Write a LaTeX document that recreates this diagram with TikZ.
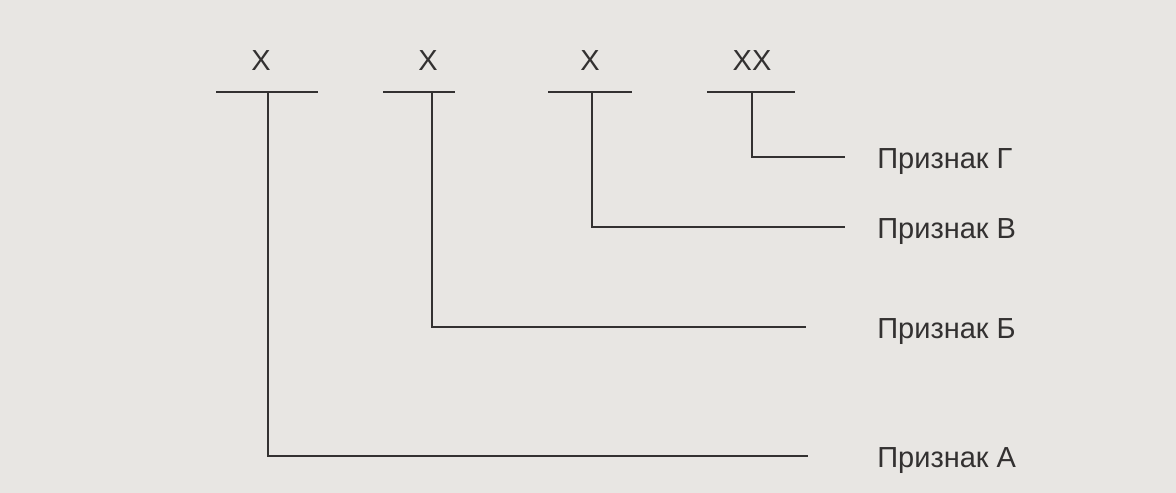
\documentclass[tikz,border=0pt]{standalone}
\usepackage{fontspec}
\setmainfont{Liberation Sans}
\usetikzlibrary{positioning,calc}
\definecolor{PaperGray}{HTML}{E8E6E3}
\definecolor{InkGray}{HTML}{333131}

\begin{document}
\begin{tikzpicture}[x=0.02cm,y=-0.02cm,
  line/.style={draw=InkGray,line width=1.6pt},
  digit/.style={inner sep=0pt,font=\fontsize{16.5}{18}\selectfont,text=InkGray},
  sign/.style={anchor=west,inner sep=0pt,font=\fontsize{16.5}{18}\selectfont,text=InkGray}]
\fill[PaperGray] (0,0) rectangle (1176,493);
% code positions
\node[digit] (x1) at (261,61) {X};
\node[digit] (x2) at (428,61) {X};
\node[digit] (x3) at (590,61) {X};
\node[digit] (x4) at (752,61) {XX};
\coordinate (b1l) at (216,92); \coordinate (b1r) at (318,92);
\coordinate (b2l) at (383,92); \coordinate (b2r) at (455,92);
\coordinate (b3l) at (548,92); \coordinate (b3r) at (632,92);
\coordinate (b4l) at (707,92); \coordinate (b4r) at (795,92);
\draw[line] (b1l) -- (b1r) (b2l) -- (b2r) (b3l) -- (b3r) (b4l) -- (b4r);
\coordinate (t1) at (268,92);
\coordinate (t2) at (432,92);
\coordinate (t3) at (592,92);
\coordinate (t4) at (752,92);
% features
\node[sign] (pG) at (877,162) {Признак Г};
\node[sign] (pV) at (877,232) {Признак В};
\node[sign] (pB) at (877,332) {Признак Б};
\node[sign] (pA) at (877,461) {Признак А};
\coordinate (eG) at (845,157);
\coordinate (eV) at (845,227);
\coordinate (eB) at (806,327);
\coordinate (eA) at (808,456);
\draw[line] (t4) |- (eG);
\draw[line] (t3) |- (eV);
\draw[line] (t2) |- (eB);
\draw[line] (t1) |- (eA);
\end{tikzpicture}
\end{document}
